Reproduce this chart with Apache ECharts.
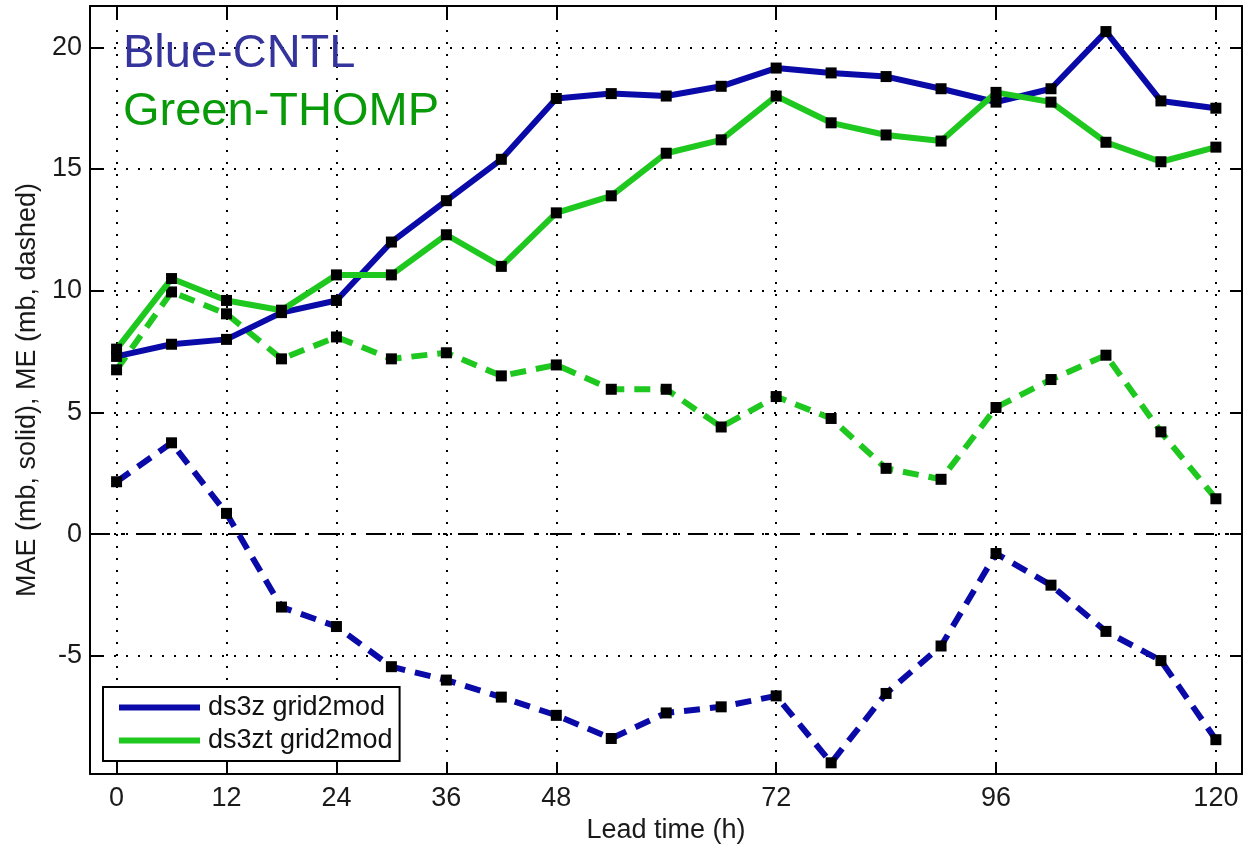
<!DOCTYPE html>
<html>
<head>
<meta charset="utf-8">
<script src="https://cdn.jsdelivr.net/npm/echarts@6/dist/echarts.min.js"></script>
<style>
html,body{margin:0;padding:0;background:#fff;}
#main{width:1244px;height:846px;}
</style>
</head>
<body>
<div id="main"></div>
<script>
// lead times (h) and tick positions
var leadTime = [0,6,12,18,24,30,36,42,48,54,60,66,72,78,84,90,96,102,108,114,120];
var xTicks = [0,12,24,36,48,72,96,120];
var yTicks = [-5,0,5,10,15,20];

// MAE (solid) and ME (dashed), mb
var maeCntl  = [7.3,7.8,8.0,9.1,9.6,12.0,13.7,15.4,17.9,18.1,18.0,18.4,19.15,18.95,18.8,18.3,17.75,18.3,20.65,17.8,17.5];
var maeThomp = [7.6,10.5,9.6,9.2,10.65,10.65,12.3,11.0,13.2,13.9,15.65,16.2,18.0,16.9,16.4,16.15,18.15,17.75,16.1,15.3,15.9];
var meCntl   = [2.15,3.75,0.85,-3.0,-3.8,-5.45,-6.0,-6.7,-7.45,-8.4,-7.35,-7.1,-6.65,-9.4,-6.55,-4.6,-0.8,-2.1,-4.0,-5.2,-8.45];
var meThomp  = [6.75,9.95,9.05,7.2,8.1,7.2,7.45,6.5,6.95,5.95,5.95,4.4,5.65,4.75,2.7,2.25,5.2,6.35,7.35,4.2,1.45];

var blue = '#0a0aa8';
var green = '#1ec81e';
var font = '"Liberation Sans", Arial, sans-serif';

function pairs(ys){
    var out = [];
    for(var i=0;i<leadTime.length;i++){
        out.push([leadTime[i], ys[i]]);
    }
    return out;
}

function lineSeries(name, ys, color, dashed){
    return {
        name: name,
        type: 'line',
        xAxisIndex: 0,
        yAxisIndex: 0,
        data: pairs(ys),
        symbol: 'rect',
        symbolSize: 11,
        showSymbol: true,
        animation: false,
        itemStyle: {color: '#000'},
        lineStyle: {color: color, width: 6, type: dashed ? [16,10] : 'solid', cap: 'butt'},
        emphasis: {disabled: true},
        z: dashed ? 3 : 4
    };
}

var gridLine = {show: true, lineStyle: {color: '#000', width: 2, type: [2,10]}};
var tick = {show: true, inside: true, length: 12, lineStyle: {color: '#000', width: 2}};
var axisLine = {show: true, onZero: false, lineStyle: {color: '#000', width: 2}};
var labelStyle = {color: '#1a1a1a', fontSize: 27, fontFamily: font};

var myChart = echarts.init(document.getElementById('main'), null, {renderer: 'canvas'});
myChart.setOption({
    backgroundColor: '#fff',
    animation: false,
    title: [
        {text: 'Blue-CNTL', left: 123, top: 31, padding: 0,
         textStyle: {fontSize: 47, fontWeight: 'normal', color: '#34349c', fontFamily: font}},
        {text: 'Green-THOMP', left: 123, top: 89, padding: 0,
         textStyle: {fontSize: 47, fontWeight: 'normal', color: '#089a08', fontFamily: font}}
    ],
    legend: {
        orient: 'vertical',
        left: 103,
        top: 687,
        padding: [7, 7, 7, 16],
        itemGap: 6,
        itemWidth: 81,
        itemHeight: 6,
        icon: 'rect',
        backgroundColor: '#fff',
        borderColor: '#000',
        borderWidth: 2,
        borderRadius: 0,
        textStyle: {fontSize: 27, color: '#111', fontFamily: font, padding: [0,0,0,3]},
        data: [
            {name: 'ds3z grid2mod', itemStyle: {color: blue}},
            {name: 'ds3zt grid2mod', itemStyle: {color: green}}
        ],
        selectedMode: false,
        z: 10
    },
    grid: {left: 90, top: 6, width: 1152, height: 768, containLabel: false, outerBoundsMode: 'none'},
    xAxis: [
        {
            type: 'value', position: 'bottom', min: -2.9, max: 122.85,
            name: 'Lead time (h)', nameLocation: 'middle', nameGap: 42,
            nameTextStyle: {fontSize: 27, color: '#1a1a1a', fontFamily: font},
            axisLine: axisLine,
            axisTick: Object.assign({customValues: xTicks}, tick),
            axisLabel: Object.assign({customValues: xTicks, margin: 11}, labelStyle),
            splitLine: gridLine
        },
        {
            type: 'value', position: 'top', min: -2.9, max: 122.85,
            axisLine: axisLine,
            axisTick: Object.assign({customValues: xTicks}, tick),
            axisLabel: {show: false},
            splitLine: {show: false}
        }
    ],
    yAxis: [
        {
            type: 'value', position: 'left', min: -9.86, max: 21.7,
            name: 'MAE (mb, solid), ME (mb, dashed)', nameLocation: 'middle', nameGap: 38,
            nameTextStyle: {fontSize: 27, color: '#1a1a1a', fontFamily: font},
            axisLine: axisLine,
            axisTick: Object.assign({customValues: yTicks}, tick),
            axisLabel: Object.assign({customValues: yTicks, margin: 8}, labelStyle),
            splitLine: gridLine
        },
        {
            type: 'value', position: 'right', min: -9.86, max: 21.7,
            axisLine: axisLine,
            axisTick: Object.assign({customValues: yTicks}, tick),
            axisLabel: {show: false},
            splitLine: {show: false}
        }
    ],
    series: [
        (function(){
            var s = lineSeries('ME cntl', meCntl, blue, true);
            s.markLine = {
                silent: true,
                symbol: 'none',
                label: {show: false},
                lineStyle: {color: '#000', width: 2, type: [20,11,4,11]},
                data: [{yAxis: 0}],
                z: 2
            };
            return s;
        })(),
        lineSeries('ME thomp', meThomp, green, true),
        lineSeries('ds3z grid2mod', maeCntl, blue, false),
        lineSeries('ds3zt grid2mod', maeThomp, green, false)
    ]
});
</script>
</body>
</html>
